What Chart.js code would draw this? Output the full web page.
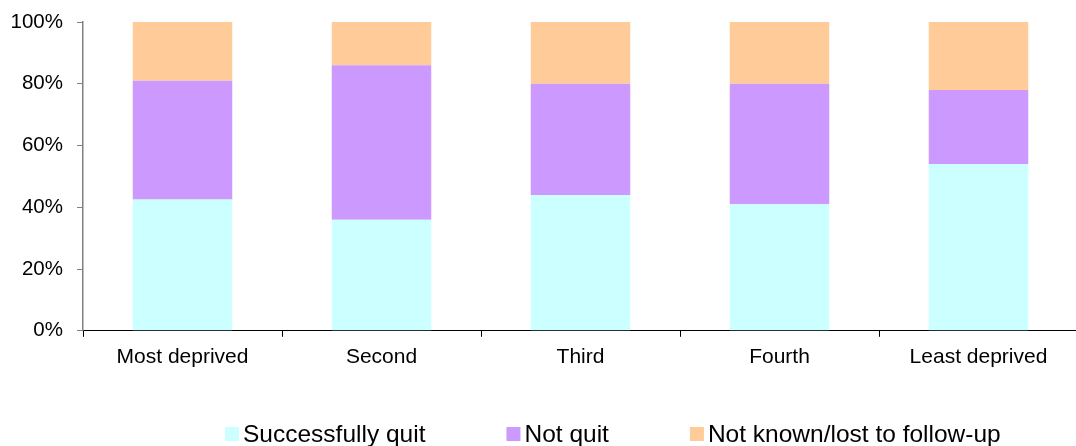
<!DOCTYPE html>
<html>
<head>
<meta charset="utf-8">
<script src="https://cdn.jsdelivr.net/npm/chart.js@4/dist/chart.umd.min.js"></script>
<style>
  html, body { margin: 0; padding: 0; background: #fff; overflow: hidden; }
  #wrap { width: 1080px; height: 446px; }
</style>
</head>
<body>
<div id="wrap"><canvas id="c" width="1080" height="446"></canvas></div>
<script>
// Quintiles of deprivation
const categories = ['Most deprived', 'Second', 'Third', 'Fourth', 'Least deprived'];
// Outcome shares (%) per quintile
const successfullyQuit = [42.5, 36, 44, 41, 54];
const notQuit = [38.5, 50, 36, 39, 24];
const notKnown = [19, 14, 20, 20, 22];
const yTicks = [0, 20, 40, 60, 80, 100];

const FONT = '"Liberation Sans", Arial, sans-serif';

// Legend drawn along the bottom edge, below the axis labels
const bottomLegend = {
  id: 'bottomLegend',
  afterDraw(chart) {
    const ctx = chart.ctx;
    ctx.save();
    ctx.font = '24.5px ' + FONT;
    ctx.textBaseline = 'middle';
    ctx.textAlign = 'left';
    let x = 225;
    const y = 434;
    chart.data.datasets.forEach(ds => {
      ctx.fillStyle = ds.backgroundColor;
      ctx.fillRect(x, y - 7, 14, 14);
      ctx.fillStyle = '#000';
      ctx.fillText(ds.label, x + 18, y + 1);
      x += 18 + ctx.measureText(ds.label).width + 81;
    });
    ctx.restore();
  }
};

new Chart(document.getElementById('c'), {
  type: 'bar',
  data: {
    labels: categories,
    datasets: [
      { label: 'Successfully quit', data: successfullyQuit, backgroundColor: '#CCFFFF' },
      { label: 'Not quit', data: notQuit, backgroundColor: '#CC99FF' },
      { label: 'Not known/lost to follow-up', data: notKnown, backgroundColor: '#FFCC99' }
    ]
  },
  options: {
    responsive: false,
    animation: false,
    devicePixelRatio: 1,
    layout: { padding: { left: 11, right: 2, top: 22, bottom: 68 } },
    datasets: { bar: { barPercentage: 0.5, categoryPercentage: 1.0, borderWidth: 0 } },
    plugins: {
      legend: { display: false },
      tooltip: { enabled: false }
    },
    scales: {
      x: {
        stacked: true,
        grid: { drawOnChartArea: false, color: '#000', tickLength: 6, offset: true },
        border: { color: '#000', width: 1 },
        ticks: { color: '#000', font: { family: FONT, size: 21 }, padding: 8, maxRotation: 0 }
      },
      y: {
        stacked: true,
        min: 0,
        max: 100,
        afterBuildTicks(axis) { axis.ticks = yTicks.map(v => ({ value: v })); },
        afterFit(axis) {
          axis.width = 72;
          axis.paddingTop = 0;
          axis.paddingBottom = 0;
        },
        grid: { drawOnChartArea: false, color: '#808080', tickLength: 6 },
        border: { color: '#808080', width: 1.5 },
        ticks: {
          color: '#000',
          font: { family: FONT, size: 20.5 },
          padding: 14,
          callback: v => v + '%'
        }
      }
    }
  },
  plugins: [bottomLegend]
});
</script>
</body>
</html>
